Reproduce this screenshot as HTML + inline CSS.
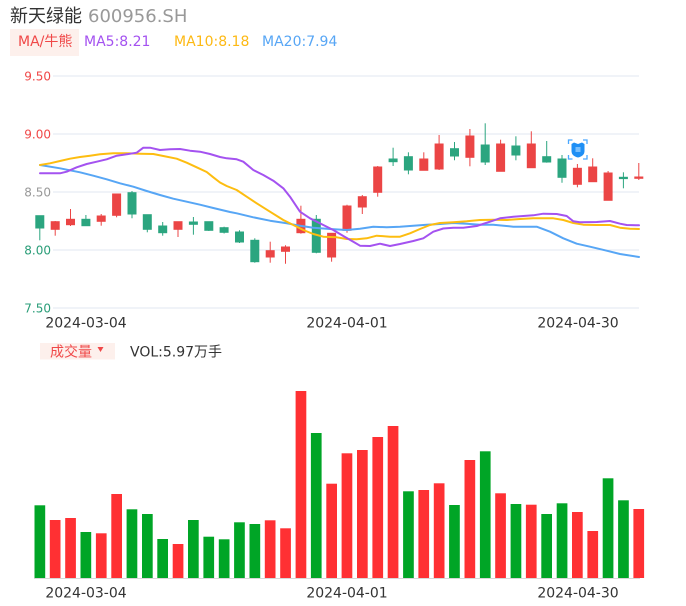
<!DOCTYPE html>
<html><head><meta charset="utf-8">
<style>
html,body{margin:0;padding:0;background:#fff;}
svg{display:block;}
text{font-family:"DejaVu Sans","Noto Sans CJK SC",sans-serif;}
</style></head>
<body>
<svg width="686" height="606" viewBox="0 0 686 606" xmlns="http://www.w3.org/2000/svg">
<rect width="686" height="606" fill="#fff"/>
<!-- header -->
<text x="10" y="22" font-size="18" fill="#333">新天绿能</text>
<text x="88" y="22" font-size="18" fill="#999">600956.SH</text>
<rect x="10" y="29" width="69" height="27" fill="#fdf0ec"/>
<text x="18" y="46" font-size="14" fill="#f04848">MA/牛熊</text>
<text x="84" y="46" font-size="14" fill="#a452f0">MA5:8.21</text>
<text x="174" y="46" font-size="14" fill="#fdb914">MA10:8.18</text>
<text x="262" y="46" font-size="14" fill="#57a6f5">MA20:7.94</text>

<!-- grid -->
<g stroke="#e2e7f1" stroke-width="1">
<line x1="53" y1="76" x2="639" y2="76"/>
<line x1="53" y1="134" x2="639" y2="134"/>
<line x1="53" y1="192" x2="639" y2="192"/>
<line x1="53" y1="250" x2="639" y2="250"/>
<line x1="53" y1="308" x2="639" y2="308"/>
</g>
<g font-size="12" text-anchor="end">
<text x="51" y="80.3" fill="#f04848">9.50</text>
<text x="51" y="138.3" fill="#f04848">9.00</text>
<text x="51" y="196.3" fill="#999">8.50</text>
<text x="51" y="254.3" fill="#2a9d78">8.00</text>
<text x="51" y="312.3" fill="#2a9d78">7.50</text>
</g>
<g font-size="14" fill="#333" text-anchor="middle">
<text x="86" y="327.5">2024-03-04</text>
<text x="347" y="327.5">2024-04-01</text>
<text x="578" y="327.5">2024-04-30</text>
</g>

<!-- candles -->
<g stroke-width="1">
<g stroke="#2ba57f" fill="#2ba57f">
<line x1="39.8" y1="215.7" x2="39.8" y2="240.3"/><rect x="35.8" y="215.7" width="8" height="12.3"/>
<line x1="85.9" y1="215" x2="85.9" y2="225.7"/><rect x="81.9" y="219.3" width="8" height="6.4"/>
<line x1="132" y1="191" x2="132" y2="218.3"/><rect x="128" y="192.7" width="8" height="21.3"/>
<line x1="147.3" y1="214.7" x2="147.3" y2="232.3"/><rect x="143.3" y="214.7" width="8" height="14.6"/>
<line x1="162.7" y1="222" x2="162.7" y2="235.7"/><rect x="158.7" y="226" width="8" height="6.7"/>
<line x1="193.4" y1="217" x2="193.4" y2="234.7"/><rect x="189.4" y="222" width="8" height="2.3"/>
<line x1="208.8" y1="221.7" x2="208.8" y2="231"/><rect x="204.8" y="221.7" width="8" height="8.6"/>
<line x1="224.1" y1="226.7" x2="224.1" y2="233.5"/><rect x="220.1" y="227.7" width="8" height="4.6"/>
<line x1="239.5" y1="230.3" x2="239.5" y2="243"/><rect x="235.5" y="232" width="8" height="10"/>
<line x1="254.8" y1="238.3" x2="254.8" y2="262.7"/><rect x="250.8" y="240.3" width="8" height="21.4"/>
<line x1="316.3" y1="215" x2="316.3" y2="253.3"/><rect x="312.3" y="219.3" width="8" height="33"/>
<line x1="393.1" y1="147.7" x2="393.1" y2="166"/><rect x="389.1" y="159" width="8" height="2.7"/>
<line x1="408.4" y1="152.3" x2="408.4" y2="174.3"/><rect x="404.4" y="156.7" width="8" height="13.3"/>
<line x1="454.5" y1="142" x2="454.5" y2="160.3"/><rect x="450.5" y="148.7" width="8" height="7.3"/>
<line x1="485.2" y1="123.3" x2="485.2" y2="165"/><rect x="481.2" y="145" width="8" height="17"/>
<line x1="515.9" y1="136.3" x2="515.9" y2="160.3"/><rect x="511.9" y="146" width="8" height="9"/>
<line x1="546.7" y1="141" x2="546.7" y2="162.7"/><rect x="542.7" y="156.7" width="8" height="5.3"/>
<line x1="562" y1="155" x2="562" y2="182.7"/><rect x="558" y="159" width="8" height="18.3"/>
<line x1="623.4" y1="172.3" x2="623.4" y2="188.3"/><rect x="619.4" y="177.3" width="8" height="1.3"/>
</g>
<g stroke="#eb4545" fill="#eb4545">
<line x1="55.2" y1="221" x2="55.2" y2="235.7"/><rect x="51.2" y="221.7" width="8" height="7.6"/>
<line x1="70.5" y1="209" x2="70.5" y2="226"/><rect x="66.5" y="219.3" width="8" height="5.4"/>
<line x1="101.2" y1="214" x2="101.2" y2="225.7"/><rect x="97.2" y="216" width="8" height="5.3"/>
<line x1="116.6" y1="194" x2="116.6" y2="217.3"/><rect x="112.6" y="194" width="8" height="21.3"/>
<line x1="178" y1="221.7" x2="178" y2="237"/><rect x="174" y="221.7" width="8" height="7.6"/>
<line x1="270.2" y1="241.7" x2="270.2" y2="262.7"/><rect x="266.2" y="250.7" width="8" height="6.3"/>
<line x1="285.5" y1="245.3" x2="285.5" y2="263.7"/><rect x="281.5" y="247" width="8" height="4.3"/>
<line x1="300.9" y1="205.7" x2="300.9" y2="233.7"/><rect x="296.9" y="219.3" width="8" height="13.4"/>
<line x1="331.6" y1="233.3" x2="331.6" y2="261.7"/><rect x="327.6" y="233.3" width="8" height="23.7"/>
<line x1="347" y1="204.7" x2="347" y2="232.7"/><rect x="343" y="206" width="8" height="24.3"/>
<line x1="362.3" y1="195" x2="362.3" y2="214"/><rect x="358.3" y="196.7" width="8" height="10.3"/>
<line x1="377.7" y1="166" x2="377.7" y2="196.7"/><rect x="373.7" y="167" width="8" height="25.3"/>
<line x1="423.8" y1="152.3" x2="423.8" y2="170.3"/><rect x="419.8" y="159" width="8" height="11.3"/>
<line x1="439.1" y1="135" x2="439.1" y2="170"/><rect x="435.1" y="144" width="8" height="25"/>
<line x1="469.9" y1="129" x2="469.9" y2="166.3"/><rect x="465.9" y="136" width="8" height="21.3"/>
<line x1="500.6" y1="139.7" x2="500.6" y2="171.3"/><rect x="496.6" y="144" width="8" height="27.3"/>
<line x1="531.3" y1="131.3" x2="531.3" y2="167.7"/><rect x="527.3" y="144" width="8" height="23.7"/>
<line x1="577.4" y1="164" x2="577.4" y2="187.3"/><rect x="573.4" y="168.3" width="8" height="16"/>
<line x1="592.7" y1="158.3" x2="592.7" y2="181.7"/><rect x="588.7" y="167" width="8" height="14.7"/>
<line x1="608.1" y1="171" x2="608.1" y2="200.3"/><rect x="604.1" y="173" width="8" height="27.3"/>
<line x1="638.8" y1="163" x2="638.8" y2="180"/><rect x="634.8" y="177" width="8" height="1.3"/>
</g>
</g>

<!-- MA lines -->
<g fill="none" stroke-width="2" stroke-linejoin="round" stroke-linecap="round">
<polyline stroke="#57a6f5" points="40,165 60,168.3 80,172.3 93.3,175.7 106.7,179.3 120,183.3 133.3,186.7 146.7,191 160,195 173.3,198.7 186.7,201.7 200,204.7 213.3,208 230,212 236.7,213.3 253.3,217.3 270,220.7 286.7,223.3 300,225.7 313.3,227.7 330,229 346.7,230 360,228.7 373.3,226.7 386.7,227.3 400,226.7 413.3,225.7 426.7,224.7 440,224 453.3,223 466.7,223.7 480,224.7 493.3,224.7 513.3,226.7 536.7,226.7 550,231.7 563.3,238.3 576.7,243.7 590,246.7 606.7,250.7 620,254 639,257"/>
<polyline stroke="#fdbd10" points="40,165 50,163.3 60,161 70,158.7 80,157 90,155.7 100,154.3 113.3,153.3 126.7,153.3 140,153.7 153.3,154 163.3,156 176.7,158.7 186.7,162.7 196.7,167.3 206.7,172 213.3,177.3 220,182.5 226.7,186 236.7,190 246.7,196.7 256.7,203.3 270,211.7 283.3,220 293.3,225 303.3,230 313.3,234 323.3,236.7 336.7,237.3 346.7,239 356.7,239.3 366.7,238.3 376.7,235.7 390,236.7 400,236.7 410,233.3 420,229 430,225 440,223 453.3,222.3 466.7,221.3 480,220 493.3,219.7 506.7,220 520,219 533.3,218.3 553.3,218.3 563.3,220 573.3,223 583.3,224.7 596.7,225 610,225 620,227.7 630,228.7 639,229"/>
<polyline stroke="#a452f0" points="40,173.3 60,173.3 66.7,171.7 76.7,167.3 86.7,164 96.7,161.7 106.7,159.3 116.7,155.7 126.7,154.3 136.7,152.7 143.3,147.7 150,147.7 160,150 170,149.3 180,149 190,150.7 200,151.7 210,154 220,157 226.7,158.3 236.7,159.3 243.3,161.7 253.3,170 263.3,175 273.3,180.7 283.3,188.3 290,196.7 300,211.7 310,218.3 323.3,225 333.3,230 343.3,236 353.3,241.7 360,245.7 370,246 380,243.7 390,246 400,244 413.3,241 423.3,238.3 433.3,231.7 443.3,228.5 453.3,227.7 463.3,227.7 476.7,226 490,221.7 500,218.3 513.3,216.7 533.3,215.3 543.3,213.7 556.7,214 566.7,216 573.3,221.3 580,222.3 596.7,222 610,221 620,223.7 626.7,225 639,225.3"/>
</g>

<!-- bear icon -->
<g>
<g fill="none" stroke="#4aa8ff" stroke-width="1.3">
<path d="M568.5,144 V140 H572.5"/>
<path d="M583,140 H587 V144"/>
<path d="M568.5,155 V159 H572.5"/>
<path d="M583,159 H587 V155"/>
</g>
<path d="M571.5,144 L574,142.5 L578,144 L582,142.5 L584.5,144 L584.5,151 Q584.5,156 578,157.5 Q571.5,156 571.5,151 Z" fill="#1e8ff5"/>
<rect x="575.5" y="147" width="5" height="5" fill="#8fcaff" opacity="0.8"/>
</g>

<!-- volume header -->
<rect x="40" y="343" width="75" height="16.5" fill="#fdf0ec"/>
<text x="50" y="356.5" font-size="14" fill="#f04848">成交量</text>
<path d="M97.5,347 L103.5,347 L100.5,352 Z" fill="#f04848"/>
<text x="130" y="356.5" font-size="14" fill="#333">VOL:5.97万手</text>

<!-- volume bars -->
<g fill="#00a526">
<rect x="34.5" y="505.3" width="10.7" height="72.7"/>
<rect x="80.5" y="532" width="10.7" height="46"/>
<rect x="126.6" y="509.3" width="10.7" height="68.7"/>
<rect x="142" y="514" width="10.7" height="64"/>
<rect x="157.3" y="539" width="10.7" height="39"/>
<rect x="188" y="520" width="10.7" height="58"/>
<rect x="203.4" y="536.7" width="10.7" height="41.3"/>
<rect x="218.8" y="539.3" width="10.7" height="38.7"/>
<rect x="234.1" y="522.3" width="10.7" height="55.7"/>
<rect x="249.5" y="524" width="10.7" height="54"/>
<rect x="310.9" y="433" width="10.7" height="145"/>
<rect x="403.1" y="491.3" width="10.7" height="86.7"/>
<rect x="449.1" y="505" width="10.7" height="73"/>
<rect x="479.9" y="451.3" width="10.7" height="126.7"/>
<rect x="510.6" y="504" width="10.7" height="74"/>
<rect x="541.3" y="514" width="10.7" height="64"/>
<rect x="556.7" y="503.3" width="10.7" height="74.7"/>
<rect x="602.7" y="478.3" width="10.7" height="99.7"/>
<rect x="618.1" y="500.3" width="10.7" height="77.7"/>
</g>
<g fill="#ff3033">
<rect x="49.8" y="520" width="10.7" height="58"/>
<rect x="65.2" y="518" width="10.7" height="60"/>
<rect x="95.9" y="533.3" width="10.7" height="44.7"/>
<rect x="111.3" y="494" width="10.7" height="84"/>
<rect x="172.7" y="544" width="10.7" height="34"/>
<rect x="264.8" y="520.3" width="10.7" height="57.7"/>
<rect x="280.2" y="528.3" width="10.7" height="49.7"/>
<rect x="295.6" y="391" width="10.7" height="187"/>
<rect x="326.3" y="483.7" width="10.7" height="94.3"/>
<rect x="341.6" y="453.3" width="10.7" height="124.7"/>
<rect x="357" y="450" width="10.7" height="128"/>
<rect x="372.4" y="437" width="10.7" height="141"/>
<rect x="387.7" y="426" width="10.7" height="152"/>
<rect x="418.4" y="490" width="10.7" height="88"/>
<rect x="433.8" y="483.3" width="10.7" height="94.7"/>
<rect x="464.5" y="460" width="10.7" height="118"/>
<rect x="495.2" y="493.3" width="10.7" height="84.7"/>
<rect x="525.9" y="504.7" width="10.7" height="73.3"/>
<rect x="572" y="512" width="10.7" height="66"/>
<rect x="587.4" y="531" width="10.7" height="47"/>
<rect x="633.4" y="509" width="10.7" height="69"/>
</g>
<line x1="34" y1="578.5" x2="640" y2="578.5" stroke="#d8d8d8" stroke-width="1"/>
<g font-size="14" fill="#333" text-anchor="middle">
<text x="86" y="597.5">2024-03-04</text>
<text x="347" y="597.5">2024-04-01</text>
<text x="578" y="597.5">2024-04-30</text>
</g>
</svg>
</body></html>
